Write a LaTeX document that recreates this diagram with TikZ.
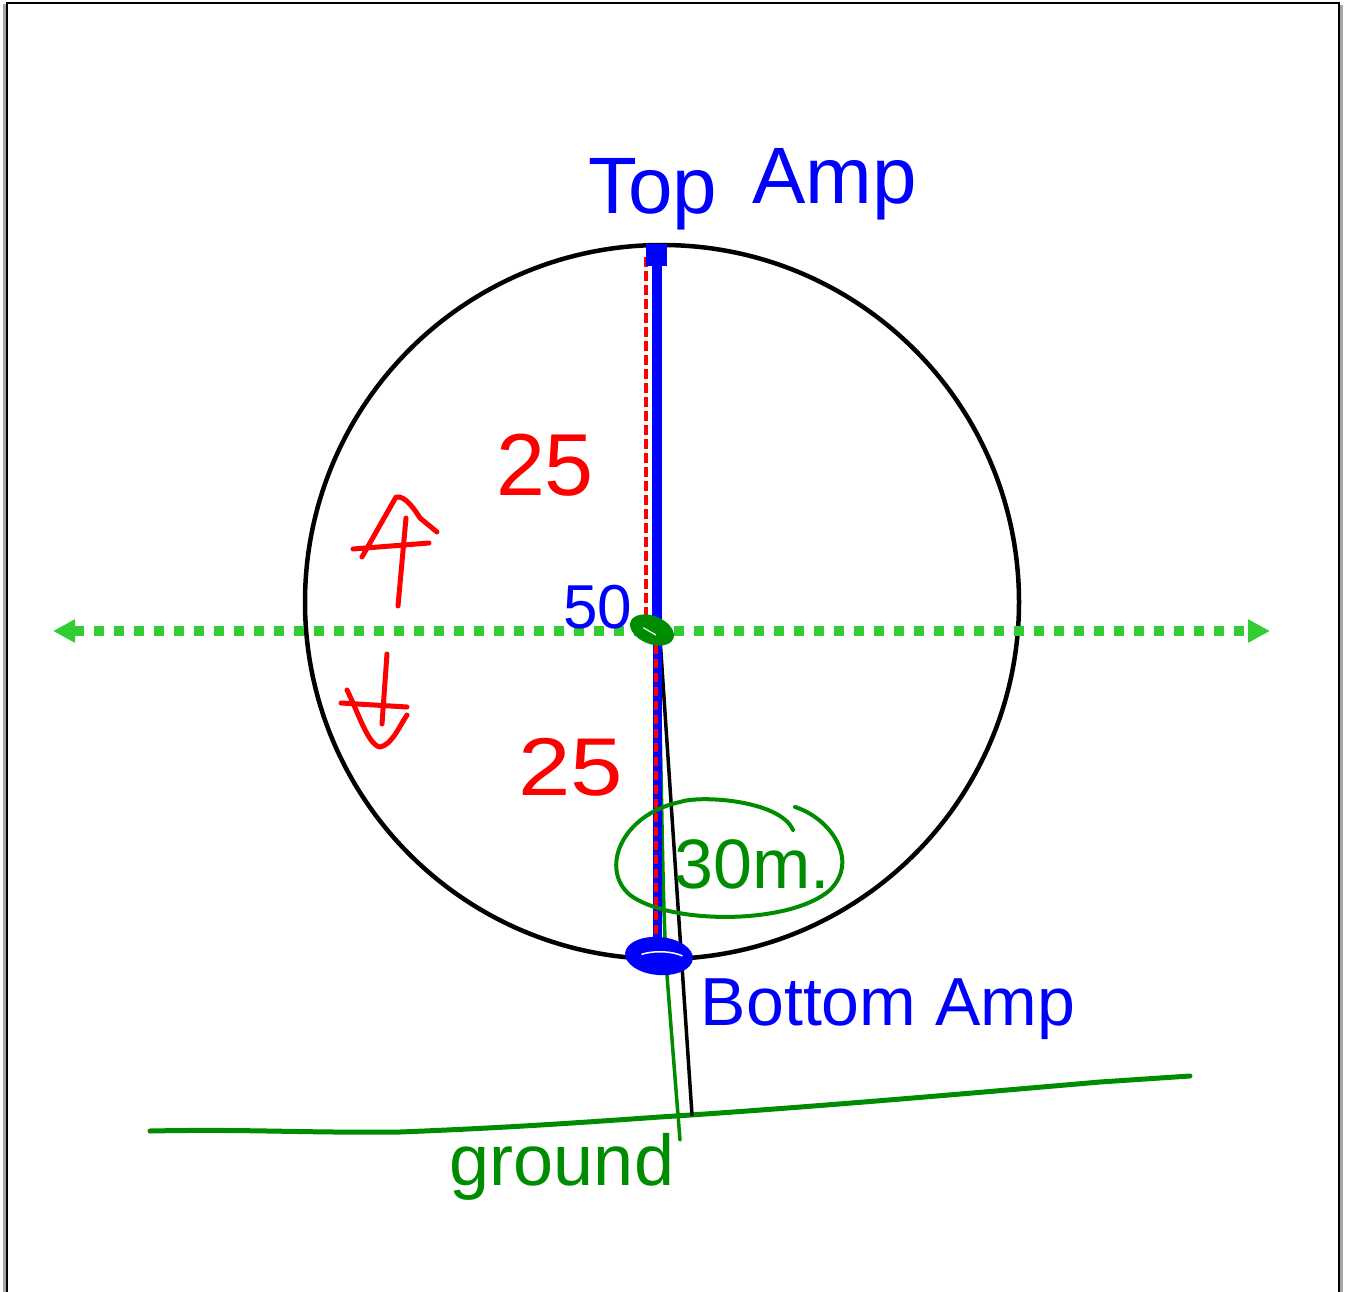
\documentclass[tikz,border=0pt]{standalone}
\usepackage{fontspec}
\setmainfont{Liberation Sans}
\usetikzlibrary{arrows.meta}
\definecolor{limeg}{RGB}{50,205,50}
\definecolor{dkgreen}{RGB}{0,140,0}
\definecolor{pblue}{RGB}{0,0,255}
\definecolor{pred}{RGB}{255,0,0}
\begin{document}
\begin{tikzpicture}[x=1pt,y=-1pt,line cap=round,line join=round,
  txt/.style={inner sep=0pt,anchor=base},
  redpen/.style={draw=pred,line width=5},
  greenpen/.style={draw=dkgreen,line width=4}]
\useasboundingbox (0,0) rectangle (1347,1292);
% frame
\draw[gray!70,line width=3,line cap=butt] (4.5,4) -- (4.5,1292);
\draw[black,line width=2,line cap=butt] (6.5,3) -- (6.5,1292);
\draw[black,line width=2,line cap=butt] (6,3.5) -- (1340,3.5);
\draw[black,line width=2,line cap=butt] (1338.5,3) -- (1338.5,1292);
\draw[gray!70,line width=3,line cap=butt] (1341,5) -- (1341,1292);

% coordinates
\coordinate (topamp) at (657,255);
\coordinate (ctr) at (657,628);
\coordinate (botamp) at (658,956);
\coordinate (gl) at (53,631);
\coordinate (gr) at (1270,631);
\coordinate (gfoot) at (692,1115);

% circle
\draw[line width=4.5] (662,602) circle [radius=357];

% ground line
\draw[greenpen,line width=5] (150,1131) .. controls (250,1129) and (300,1133) .. (400,1132)
  .. controls (500,1128) and (560,1124) .. (660,1117)
  .. controls (800,1108) and (950,1095) .. (1100,1082) -- (1190,1076);

% black pole
\draw[line width=3.5] (ctr) ++(3,10) -- (gfoot);
% green wire
\draw[greenpen,line width=3.5] (ctr) ++(1,10) .. controls (662,780) and (662,900) .. (667,975)
  .. controls (672,1040) and (676,1090) .. (680,1140);

% upper blue and red dashed
\draw[pblue,line width=10,line cap=butt] (topamp) -- (ctr);
\draw[pred,line width=4.5,line cap=butt,dash pattern=on 10 off 4] (646,257) -- (646,622);
\fill[pblue] (646,244) rectangle (667,266);
% lower blue with red dashes
\draw[pblue,line width=9,line cap=butt] (657,640) -- (657,945);
\draw[pred,line width=4,line cap=butt,dash pattern=on 9 off 5] (656,645) -- (656,940);

% green dotted double arrow
\draw[limeg,line width=10,line cap=butt,dash pattern=on 10 off 10,{Triangle[length=22pt,width=22pt]}-{Triangle[length=22pt,width=22pt]}] (gl) -- (gr);

% green blob at centre
\fill[dkgreen,rotate around={-22:(652,630)}] (652,630) ellipse [x radius=23, y radius=14];
\draw[white,line width=1.2,rotate around={-30:(651,631)}] (643,632) -- (657,632);

% bottom blue blob
\fill[pblue,rotate around={-5:(659,956)}] (659,956) ellipse [x radius=34, y radius=19];
\draw[white,line width=1.5,rotate around={-8:(662,955)}] (642,957) .. controls (655,951) and (672,950) .. (682,953);

% 30m ellipse
\draw[greenpen] (793,830) .. controls (780,800) and (700,795) .. (680,802)
  .. controls (620,815) and (600,870) .. (630,895)
  .. controls (670,925) and (790,925) .. (830,890)
  .. controls (860,860) and (830,818) .. (795,807);

% red arrows
\draw[redpen] (362,557) -- (396,497) .. controls (405,495) and (415,510) .. (420,518) -- (437,532);
\draw[redpen] (353,549) -- (429,543);
\draw[redpen] (406,518) -- (398,606);
\draw[redpen] (387,654) -- (382,724);
\draw[redpen] (341,703) -- (407,707);
\draw[redpen] (347,690) .. controls (358,712) and (368,745) .. (380,747) .. controls (392,745) and (400,725) .. (407,715);

% labels
\node[txt,pblue,anchor=base west,font=\fontsize{80}{80}\selectfont] (toplbl) at (588,214) {Top};
\node[txt,pblue,anchor=base west,font=\fontsize{80}{80}\selectfont] (amplbl) at (752,204) {Amp};
\node[txt,pblue,font=\fontsize{68}{68}\selectfont] (botlbl) at (888,1025) {Bottom Amp};
\node[txt,pblue,font=\fontsize{62}{62}\selectfont] (fifty) at (598,628) {50};
\node[txt,pred,font=\fontsize{88}{88}\selectfont] (tfa) at (545,495) {25};
\node[txt,pred,xscale=1.15,font=\fontsize{82}{82}\selectfont] (tfb) at (571,795) {25};
\node[txt,dkgreen,font=\fontsize{70}{70}\selectfont] (thirty) at (752,888) {30m.};
\node[txt,dkgreen,font=\fontsize{72}{72}\selectfont] (ground) at (562,1185) {ground};
\end{tikzpicture}
\end{document}
